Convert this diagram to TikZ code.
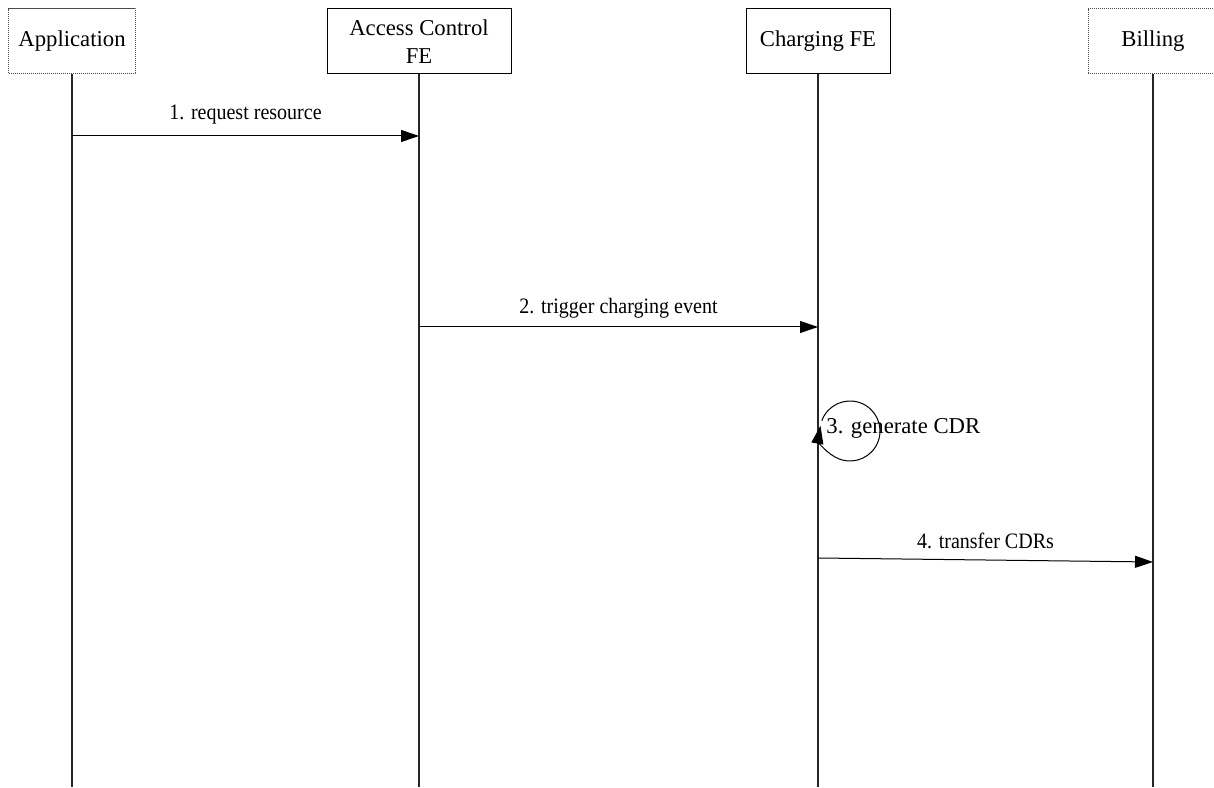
\documentclass[tikz,border=0pt]{standalone}
\usepackage{fontspec}
\setmainfont{Liberation Serif}
\usetikzlibrary{arrows.meta,calc}
\newcommand{\cond}[1]{\scalebox{0.91}[1]{#1}}
\begin{document}
\begin{tikzpicture}[x=0.5pt,y=0.5pt,
  ent/.style={draw, line width=0.5pt, minimum height=32.5pt, inner sep=0pt, align=center, font=\fontsize{11.35}{14}\selectfont},
  entd/.style={ent, draw=black!70, dash pattern=on 0.6pt off 0.4pt},
  life/.style={line width=0.6pt, draw=black!85},
  msg/.style={line width=0.5pt, -{Triangle[length=9pt,width=6pt]}},
  lbl/.style={font=\fontsize{11}{13}\selectfont, inner sep=0pt}]
\useasboundingbox (0,0) rectangle (1214,787);
\coordinate (bot) at (0,0);
% entities
\node[entd, minimum width=63.5pt] (app) at (72,745.5) {Application};
\node[ent, minimum width=92pt] (acc) at (419,745.5) {Access Control\\FE};
\node[ent, minimum width=72pt] (chg) at (818,745.5) {Charging FE};
\node[entd, minimum width=65pt] (bil) at (1153,745.5) {Billing};
% lifelines
\draw[life] (app.south) -- (app.south |- bot);
\draw[life] (acc.south) -- (acc.south |- bot);
\draw[life] (chg.south) -- (chg.south |- bot);
\draw[life] (bil.south) -- (bil.south |- bot);
% message 1
\coordinate (m1a) at (app.south |- 0,651);
\coordinate (m1b) at (acc.south |- 0,651);
\draw[msg] (m1a) -- (m1b);
\node[lbl] (l1) at ($(m1a)!0.5!(m1b)+(0,21)$) {\cond{1. request resource}};
% message 2
\coordinate (m2a) at (acc.south |- 0,460);
\coordinate (m2b) at (chg.south |- 0,460);
\draw[msg] (m2a) -- (m2b);
\node[lbl] (l2) at ($(m2a)!0.5!(m2b)+(0,19)$) {\cond{2. trigger charging event}};
% self message 3
\coordinate (lc) at (850,356);
\draw[msg] (lc) ++(160:15pt) arc[start angle=160, end angle=-190, radius=15pt];
\node[font=\fontsize{11.35}{14}\selectfont, anchor=west, inner sep=0pt] (l3) at (826,359) {3. generate CDR};
% message 4
\coordinate (m4a) at (chg.south |- 0,229);
\coordinate (m4b) at (bil.south |- 0,225);
\draw[msg] (m4a) -- (m4b);
\node[lbl] (l4) at ($(m4a)!0.5!(m4b)+(0,19)$) {\cond{4. transfer CDRs}};
\end{tikzpicture}
\end{document}
